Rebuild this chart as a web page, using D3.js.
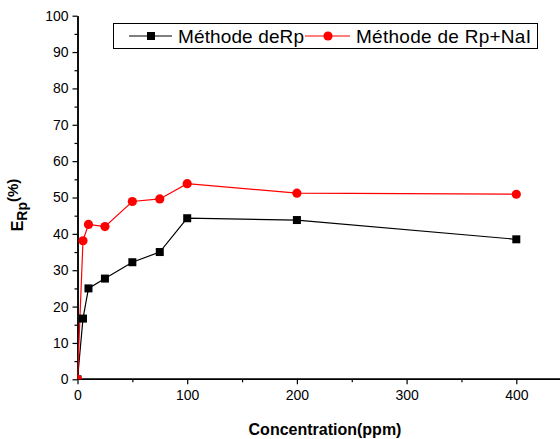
<!DOCTYPE html>
<html><head><meta charset="utf-8">
<script src="https://cdn.jsdelivr.net/npm/d3@7"></script>
<style>body{margin:0;background:#fff}svg{display:block}text{font-family:"Liberation Sans",Arial,sans-serif}</style>
</head><body><svg id="c" width="560" height="439"></svg>
<script>
const concentrations = [0, 5, 10, 25, 50, 75, 100, 200, 400];
const rpValues = [0, 16.7, 25, 27.7, 32.2, 35, 44.3, 43.8, 38.5];
const rpNaIValues = [0, 38.1, 42.6, 42, 48.9, 49.6, 53.8, 51.2, 50.9];
const xTicks = [0, 100, 200, 300, 400];
const yTicks = [0, 10, 20, 30, 40, 50, 60, 70, 80, 90, 100];
const seriesNames = ["Méthode deRp", "Méthode de Rp+NaI"];

const svg = d3.select("#c");
const L = 77.5, T = 15.7, B = 379.3, R = 560;
const x = d3.scaleLinear().domain([0, 440]).range([L, L + 440 * 1.097]);
const y = d3.scaleLinear().domain([0, 100]).range([B, T]);

svg.append("clipPath").attr("id", "clip").append("rect")
  .attr("x", L).attr("y", T - 10).attr("width", R - L).attr("height", B - T + 10);

// axes
const yAxis = svg.append("g").attr("transform", `translate(${L},0)`)
  .call(d3.axisLeft(y).tickValues(yTicks).tickSize(5).tickPadding(4).tickSizeOuter(0));
const yMinor = svg.append("g").attr("transform", `translate(${L},0)`)
  .call(d3.axisLeft(y).tickValues(d3.range(5, 100, 10)).tickSize(3).tickFormat("").tickSizeOuter(0));
const xAxis = svg.append("g").attr("transform", `translate(0,${B})`)
  .call(d3.axisBottom(x).tickValues(xTicks).tickSize(5).tickPadding(6).tickSizeOuter(0));
const xMinor = svg.append("g").attr("transform", `translate(0,${B})`)
  .call(d3.axisBottom(x).tickValues([50, 150, 250, 350]).tickSize(3).tickFormat("").tickSizeOuter(0));
[yAxis, yMinor, xAxis, xMinor].forEach(g => {
  g.select(".domain").attr("stroke", "#000").attr("stroke-width", 1.5);
  g.selectAll(".tick line").attr("stroke", "#000").attr("stroke-width", 1.2);
  g.selectAll("text").attr("font-size", 14).attr("fill", "#000")
    .attr("font-family", '"Liberation Sans",Arial,sans-serif');
});
xAxis.select(".domain").attr("d", `M${L},0H${R}`);
xMinor.select(".domain").attr("d", `M${L},0H${R}`);

const plot = svg.append("g").attr("clip-path", "url(#clip)");
const line = d3.line().x((d, i) => x(concentrations[i])).y(d => y(d));

plot.append("path").datum(rpValues).attr("d", line)
  .attr("fill", "none").attr("stroke", "#000").attr("stroke-width", 1.2);
plot.append("path").datum(rpNaIValues).attr("d", line)
  .attr("fill", "none").attr("stroke", "#ff0000").attr("stroke-width", 1.2);
plot.selectAll("rect.m").data(rpValues).join("rect").attr("class", "m")
  .attr("x", (d, i) => x(concentrations[i]) - 4).attr("y", d => y(d) - 4)
  .attr("width", 8).attr("height", 8).attr("fill", "#000");
plot.selectAll("circle.m").data(rpNaIValues).join("circle").attr("class", "m")
  .attr("cx", (d, i) => x(concentrations[i])).attr("cy", d => y(d))
  .attr("r", 4.6).attr("fill", "#ff0000");

// legend
const lg = svg.append("g");
lg.append("rect").attr("x", 113.5).attr("y", 23.5).attr("width", 424).attr("height", 25)
  .attr("fill", "#fff").attr("stroke", "#000").attr("stroke-width", 1);
lg.append("line").attr("x1", 129).attr("x2", 172).attr("y1", 36).attr("y2", 36).attr("stroke", "#000").attr("stroke-width", 1.2);
lg.append("rect").attr("x", 147).attr("y", 32).attr("width", 8).attr("height", 8).attr("fill", "#000");
lg.append("text").attr("x", 178).attr("y", 43).attr("font-size", 19).attr("textLength", 126).text(seriesNames[0]);
lg.append("line").attr("x1", 305).attr("x2", 350).attr("y1", 36).attr("y2", 36).attr("stroke", "#ff0000").attr("stroke-width", 1.2);
lg.append("circle").attr("cx", 328).attr("cy", 36).attr("r", 4.6).attr("fill", "#ff0000");
lg.append("text").attr("x", 356).attr("y", 43).attr("font-size", 19).attr("textLength", 175).text(seriesNames[1]);

// axis titles
const yt = svg.append("text").attr("transform", `translate(23,205) rotate(-90)`)
  .attr("text-anchor", "middle").attr("font-weight", "bold").attr("font-size", 16);
yt.append("tspan").text("E");
yt.append("tspan").attr("font-size", 14).attr("dy", 4).text("Rp");
yt.append("tspan").attr("dy", -9).attr("font-size", 15).text("(%)");
svg.append("text").attr("x", 325).attr("y", 435).attr("text-anchor", "middle")
  .attr("font-weight", "bold").attr("font-size", 16).text("Concentration(ppm)");
</script></body></html>
